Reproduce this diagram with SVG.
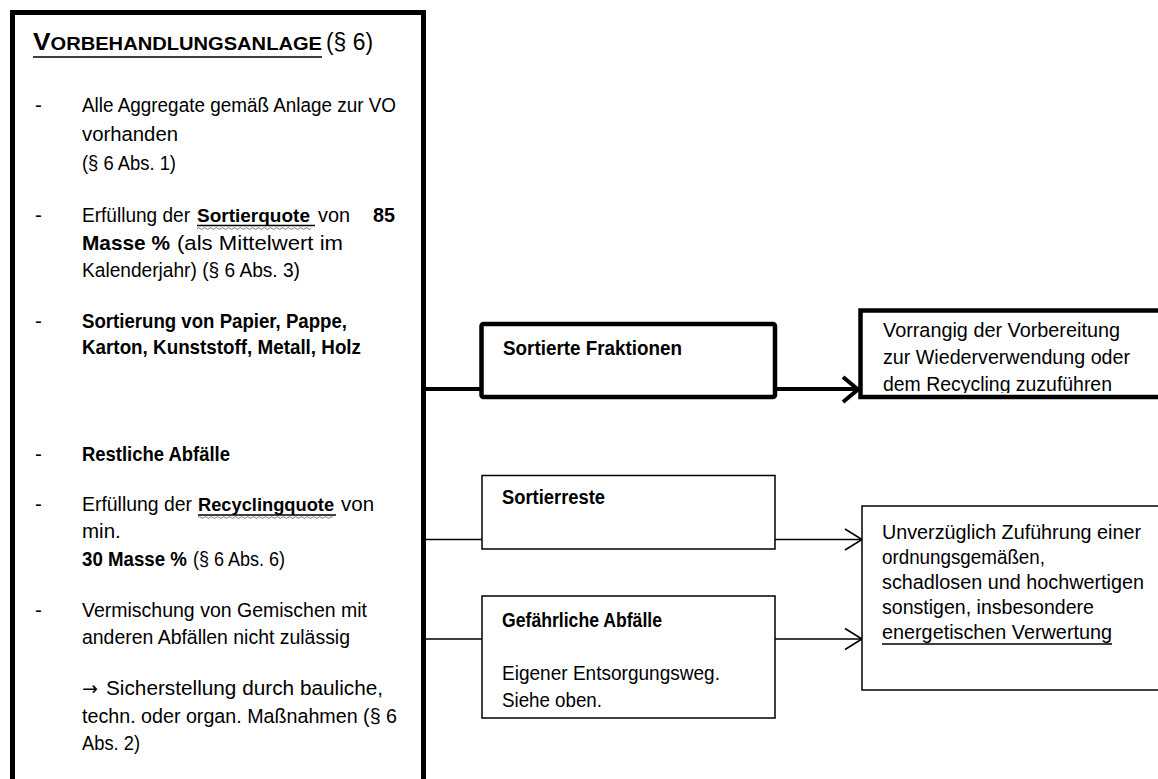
<svg xmlns="http://www.w3.org/2000/svg" width="1158" height="779" viewBox="0 0 1158 779">
<style>
text{font-family:"Liberation Sans",Arial,sans-serif;fill:#000;}
.b text{font-size:20.5px;}
.r{font-size:20.5px;}
.bd{font-weight:bold;}
.thick{fill:#fff;stroke:#000;stroke-width:4.5;}
.thin{fill:#fff;stroke:#000;stroke-width:1.5;}
.main{fill:#fff;stroke:#000;stroke-width:5;}
.c1{stroke:#000;stroke-width:1.6;fill:none;}
.c4{stroke:#000;stroke-width:4;fill:none;}
.ul{stroke:#000;stroke-width:1.4;}
.wave{stroke:#777;stroke-width:1;fill:none;}
</style>
<defs>
<clipPath id="clipV"><rect x="860" y="310" width="298" height="83"/></clipPath>
</defs>
<rect width="1158" height="779" fill="#fff"/>

<g id="main-box">
<rect class="main" x="12.5" y="12.5" width="411" height="800"/>
<text x="33" y="50" class="bd" textLength="289" lengthAdjust="spacingAndGlyphs"><tspan font-size="23.5">V</tspan><tspan font-size="18">ORBEHANDLUNGSANLAGE</tspan></text>
<line class="ul" x1="33" y1="57" x2="322" y2="57"/>
<text x="326" y="50" font-size="23" textLength="47" lengthAdjust="spacingAndGlyphs">(§ 6)</text>

<g class="b">
<text x="35" y="112">-</text>
<text x="82" y="112" textLength="314" lengthAdjust="spacingAndGlyphs">Alle Aggregate gemäß Anlage zur VO</text>
<text x="82" y="141" textLength="96" lengthAdjust="spacingAndGlyphs">vorhanden</text>
<text x="82" y="170" textLength="94" lengthAdjust="spacingAndGlyphs">(§ 6 Abs. 1)</text>

<text x="35" y="222">-</text>
<text x="82" y="222" textLength="108" lengthAdjust="spacingAndGlyphs">Erfüllung der</text>
<text x="197" y="222" class="bd" style="font-size:19px">Sortierquote</text>
<text x="318" y="222" textLength="32" lengthAdjust="spacingAndGlyphs">von</text>
<text x="373" y="222" class="bd" textLength="22" lengthAdjust="spacingAndGlyphs">85</text>
<line class="ul" x1="197" y1="225.5" x2="315" y2="225.5"/>
<path class="wave" d="M197 228.5 q1.5 -1.8 3 0 t3 0 t3 0 t3 0 t3 0 t3 0 t3 0 t3 0 t3 0 t3 0 t3 0 t3 0 t3 0 t3 0 t3 0 t3 0 t3 0 t3 0 t3 0 t3 0 t3 0 t3 0 t3 0 t3 0 t3 0 t3 0 t3 0 t3 0 t3 0 t3 0 t3 0 t3 0 t3 0 t3 0 t3 0 t3 0 t3 0 t3 0"/>
<text x="82" y="250" class="bd" textLength="88" lengthAdjust="spacingAndGlyphs">Masse %</text>
<text x="177" y="250" textLength="166" lengthAdjust="spacingAndGlyphs">(als Mittelwert im</text>
<text x="82" y="277" textLength="218" lengthAdjust="spacingAndGlyphs">Kalenderjahr) (§ 6 Abs. 3)</text>

<text x="35" y="328">-</text>
<text x="82" y="328" class="bd" textLength="265" lengthAdjust="spacingAndGlyphs">Sortierung von Papier, Pappe,</text>
<text x="82" y="354" class="bd" textLength="279" lengthAdjust="spacingAndGlyphs">Karton, Kunststoff, Metall, Holz</text>

<text x="35" y="461">-</text>
<text x="82" y="461" class="bd" textLength="148" lengthAdjust="spacingAndGlyphs">Restliche Abfälle</text>

<text x="35" y="511">-</text>
<text x="82" y="511" textLength="110" lengthAdjust="spacingAndGlyphs">Erfüllung der</text>
<text x="198" y="511" class="bd" style="font-size:18.3px">Recyclingquote</text>
<text x="341" y="511">von</text>
<line class="ul" x1="198" y1="515" x2="336" y2="515"/>
<path class="wave" d="M198 517.5 q1.5 -1.8 3 0 t3 0 t3 0 t3 0 t3 0 t3 0 t3 0 t3 0 t3 0 t3 0 t3 0 t3 0 t3 0 t3 0 t3 0 t3 0 t3 0 t3 0 t3 0 t3 0 t3 0 t3 0 t3 0 t3 0 t3 0 t3 0 t3 0 t3 0 t3 0 t3 0 t3 0 t3 0 t3 0 t3 0 t3 0 t3 0 t3 0 t3 0 t3 0 t3 0 t3 0 t3 0 t3 0 t3 0 t3 0"/>
<text x="82" y="538">min.</text>
<text x="82" y="566" class="bd" textLength="105" lengthAdjust="spacingAndGlyphs">30 Masse %</text>
<text x="193" y="566" textLength="92" lengthAdjust="spacingAndGlyphs">(§ 6 Abs. 6)</text>

<text x="35" y="617">-</text>
<text x="82" y="617" textLength="285" lengthAdjust="spacingAndGlyphs">Vermischung von Gemischen mit</text>
<text x="82" y="644" textLength="268" lengthAdjust="spacingAndGlyphs">anderen Abfällen nicht zulässig</text>

<text x="82" y="695" style="font-family:'DejaVu Sans',sans-serif;font-size:19px">→</text>
<text x="106" y="695" textLength="277" lengthAdjust="spacingAndGlyphs">Sicherstellung durch bauliche,</text>
<text x="82" y="723" textLength="315" lengthAdjust="spacingAndGlyphs">techn. oder organ. Maßnahmen (§ 6</text>
<text x="82" y="750" textLength="58" lengthAdjust="spacingAndGlyphs">Abs. 2)</text>
</g>
</g>

<g id="connectors">
<line class="c4" x1="426" y1="389" x2="481" y2="389"/>
<line class="c4" x1="777" y1="389" x2="857" y2="389"/>
<polyline class="c4" points="843,377 858,389.5 843,402"/>
<line class="c1" x1="426" y1="539.5" x2="482" y2="539.5"/>
<line class="c1" x1="775" y1="539.5" x2="861" y2="539.5"/>
<polyline class="c1" points="845,529 862,539.5 845,550"/>
<line class="c1" x1="426" y1="639" x2="482" y2="639"/>
<line class="c1" x1="775" y1="639" x2="861" y2="639"/>
<polyline class="c1" points="845,628.5 862,639 845,649.5"/>
</g>

<g id="sortierte-fraktionen">
<rect class="thick" x="481.5" y="324" width="293.5" height="73" rx="2"/>
<text x="503" y="355" class="bd" font-size="20" textLength="179" lengthAdjust="spacingAndGlyphs">Sortierte Fraktionen</text>
</g>

<g id="vorrangig">
<rect x="860.5" y="310.5" width="310" height="86.5" fill="#fff"/>
<g clip-path="url(#clipV)" class="r">
<text x="883" y="337" textLength="237" lengthAdjust="spacingAndGlyphs">Vorrangig der Vorbereitung</text>
<text x="883" y="364" textLength="247" lengthAdjust="spacingAndGlyphs">zur Wiederverwendung oder</text>
<text x="883" y="391" textLength="229" lengthAdjust="spacingAndGlyphs">dem Recycling zuzuführen</text>
</g>
<rect x="860.5" y="310.5" width="310" height="86.5" fill="none" stroke="#000" stroke-width="4.5"/>
</g>

<g id="sortierreste">
<rect class="thin" x="482" y="475.5" width="293" height="73.5"/>
<text x="502" y="504" class="bd" font-size="20" textLength="103" lengthAdjust="spacingAndGlyphs">Sortierreste</text>
</g>

<g id="gefaehrliche-abfaelle">
<rect class="thin" x="482" y="596" width="293" height="122"/>
<text x="502" y="627" class="bd" font-size="20" textLength="160" lengthAdjust="spacingAndGlyphs">Gefährliche Abfälle</text>
<text x="502" y="680" class="r" textLength="218" lengthAdjust="spacingAndGlyphs">Eigener Entsorgungsweg.</text>
<text x="502" y="707" class="r" textLength="100" lengthAdjust="spacingAndGlyphs">Siehe oben.</text>
</g>

<g id="unverzueglich">
<rect class="thin" x="862" y="506" width="310" height="184"/>
<g class="r">
<text x="882" y="539" textLength="259" lengthAdjust="spacingAndGlyphs">Unverzüglich Zuführung einer</text>
<text x="882" y="564" textLength="163" lengthAdjust="spacingAndGlyphs">ordnungsgemäßen,</text>
<text x="882" y="589" textLength="262" lengthAdjust="spacingAndGlyphs">schadlosen und hochwertigen</text>
<text x="882" y="614" textLength="212" lengthAdjust="spacingAndGlyphs">sonstigen, insbesondere</text>
<text x="882" y="639" textLength="230" lengthAdjust="spacingAndGlyphs">energetischen Verwertung</text>
</g>
<line class="ul" x1="882" y1="644" x2="1112" y2="644"/>
</g>
</svg>
